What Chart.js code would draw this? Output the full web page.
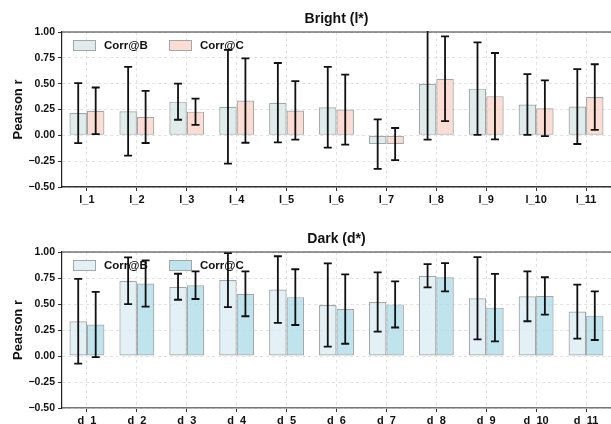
<!DOCTYPE html>
<html>
<head>
<meta charset="utf-8">
<script src="https://cdn.jsdelivr.net/npm/chart.js@4"></script>
<style>
  html, body { margin: 0; padding: 0; background: #fff; overflow: hidden; }
  .panel { position: absolute; left: 0; width: 611px; height: 212px; }
  .ttl { position: absolute; left: 62px; width: 549px; text-align: center;
         font: bold 14px 'Liberation Sans', Arial, sans-serif; color: #111; }
</style>
</head>
<body>
<div class="panel" style="top:0"><canvas id="chartBright" width="611" height="212"></canvas></div>
<div class="panel" style="top:212px"><canvas id="chartDark" width="611" height="212"></canvas></div>
<div class="ttl" style="top:10px">Bright (l*)</div>
<div class="ttl" style="top:230px">Dark (d*)</div>

<script>
// ─── Datos ─────────────────────────────────────────────
const brightLabels = ['l_1', 'l_2', 'l_3', 'l_4', 'l_5', 'l_6', 'l_7', 'l_8', 'l_9', 'l_10', 'l_11'];
const brightB    = [0.215, 0.233, 0.326, 0.277, 0.316, 0.272, -0.085, 0.498, 0.452, 0.298, 0.278];
const brightBErr = [0.291, 0.429, 0.175, 0.550, 0.384, 0.390, 0.240, 0.540, 0.447, 0.294, 0.362];
const brightC    = [0.237, 0.178, 0.229, 0.336, 0.241, 0.249, -0.084, 0.548, 0.379, 0.262, 0.370];
const brightCErr = [0.226, 0.252, 0.127, 0.408, 0.283, 0.338, 0.155, 0.410, 0.418, 0.270, 0.318];

const darkLabels = ['d_1', 'd_2', 'd_3', 'd_4', 'd_5', 'd_6', 'd_7', 'd_8', 'd_9', 'd_10', 'd_11'];
const darkB    = [0.334, 0.723, 0.666, 0.730, 0.639, 0.490, 0.519, 0.771, 0.555, 0.574, 0.427];
const darkBErr = [0.407, 0.225, 0.125, 0.260, 0.320, 0.400, 0.285, 0.112, 0.396, 0.240, 0.260];
const darkC    = [0.303, 0.697, 0.681, 0.598, 0.566, 0.451, 0.496, 0.757, 0.465, 0.577, 0.388];
const darkCErr = [0.314, 0.222, 0.133, 0.216, 0.268, 0.333, 0.222, 0.136, 0.324, 0.180, 0.234];

const yTicks = [-0.5, -0.25, 0, 0.25, 0.5, 0.75, 1.0];
const seriesNames = ['Corr@B', 'Corr@C'];

const FONT = "'Liberation Sans', Arial, sans-serif";

// ─── Barras de error ──────────────────────────────────
const errorBars = {
  id: 'errorBars',
  afterDatasetsDraw(chart) {
    const { ctx, chartArea: a, scales: { y } } = chart;
    ctx.save();
    ctx.beginPath();
    ctx.rect(a.left, a.top - 1, a.right - a.left, a.bottom - a.top + 2);
    ctx.clip();
    ctx.strokeStyle = '#111';
    ctx.lineWidth = 1.8;
    chart.data.datasets.forEach((ds, di) => {
      const meta = chart.getDatasetMeta(di);
      meta.data.forEach((bar, i) => {
        const v = ds.data[i], e = ds.errors[i];
        const top = y.getPixelForValue(v + e);
        const bot = y.getPixelForValue(v - e);
        const x = bar.x;
        ctx.beginPath();
        ctx.moveTo(x, top); ctx.lineTo(x, bot);
        ctx.moveTo(x - 4, top); ctx.lineTo(x + 4, top);
        ctx.moveTo(x - 4, bot); ctx.lineTo(x + 4, bot);
        ctx.stroke();
      });
    });
    ctx.restore();
  },
};

// marco superior + leyenda dentro del área
const frameLegend = {
  id: 'frameLegend',
  afterDraw(chart) {
    const { ctx, chartArea: a } = chart;
    ctx.save();
    ctx.strokeStyle = '#333';
    ctx.lineWidth = 1.2;
    ctx.beginPath();
    ctx.moveTo(a.left, a.top); ctx.lineTo(a.right, a.top);
    ctx.stroke();

    ctx.font = 'bold 11.5px ' + FONT;
    ctx.textBaseline = 'middle';
    const xs = [a.left + 11, a.left + 107];
    chart.data.datasets.forEach((ds, i) => {
      const x = xs[i], y = a.top + 8;
      ctx.fillStyle = '#fff';
      ctx.fillRect(x, y, 22, 10);
      ctx.fillStyle = ds.backgroundColor;
      ctx.fillRect(x, y, 22, 10);
      ctx.strokeStyle = ds.borderColor;
      ctx.lineWidth = 1;
      ctx.strokeRect(x + 0.5, y + 0.5, 22, 10);
      ctx.fillStyle = '#111';
      ctx.fillText(ds.label, x + 31, y + 5.5);
    });
    ctx.restore();
  },
};

function makeChart(id, labels, b, bErr, c, cErr, colors, padTop, xHeight, bottomBorder) {
  return new Chart(document.getElementById(id), {
    type: 'bar',
    data: {
      labels,
      datasets: [
        { label: seriesNames[0], data: b, errors: bErr, backgroundColor: colors[0],
          borderColor: '#a3a7a8', borderWidth: 1.2, borderSkipped: false },
        { label: seriesNames[1], data: c, errors: cErr, backgroundColor: colors[1],
          borderColor: '#a3a7a8', borderWidth: 1.2, borderSkipped: false },
      ],
    },
    options: {
      responsive: false,
      animation: false,
      devicePixelRatio: 1,
      layout: { padding: { top: padTop, left: 0, right: 0, bottom: 0 } },
      datasets: { bar: { categoryPercentage: 0.7, barPercentage: 1.0 } },
      plugins: {
        tooltip: { enabled: false },
        legend: { display: false },
      },
      scales: {
        x: {
          grid: { offset: false, color: '#e2e2e2', tickColor: '#333',
                  tickLength: 4, tickBorderDash: [] },
          border: { color: bottomBorder, width: 1.6, dash: [3, 3] },
          ticks: { color: '#111', padding: 2, maxRotation: 0, autoSkip: false,
                   font: { family: FONT, size: 11, weight: 'bold' } },
          afterFit: (s) => { s.height = xHeight; },
        },
        y: {
          min: -0.5, max: 1.0,
          afterBuildTicks: (s) => { s.ticks = yTicks.map((v) => ({ value: v })); },
          grid: { color: '#e2e2e2', tickColor: '#333', tickLength: 4, tickBorderDash: [] },
          border: { color: '#222', width: 1.2, dash: [3, 3] },
          ticks: { color: '#111', padding: 3,
                   font: { family: FONT, size: 10.5, weight: 'bold' },
                   callback: (v) => v.toFixed(2).replace('-', '\u2212') },
          title: { display: true, text: 'Pearson r', color: '#111',
                   padding: { top: 11, bottom: 0 },
                   font: { family: FONT, size: 13, weight: 'bold' } },
          afterFit: (s) => { s.width = 62; },
        },
      },
    },
    plugins: [errorBars, frameLegend],
  });
}

makeChart('chartBright', brightLabels, brightB, brightBErr, brightC, brightCErr,
  ['rgba(214,228,228,0.75)', 'rgba(250,210,196,0.75)'], 32, 25, '#333');
makeChart('chartDark', darkLabels, darkB, darkBErr, darkC, darkCErr,
  ['rgba(220,236,242,0.8)', 'rgba(176,221,232,0.8)'], 40, 16, '#777');
</script>
</body>
</html>
